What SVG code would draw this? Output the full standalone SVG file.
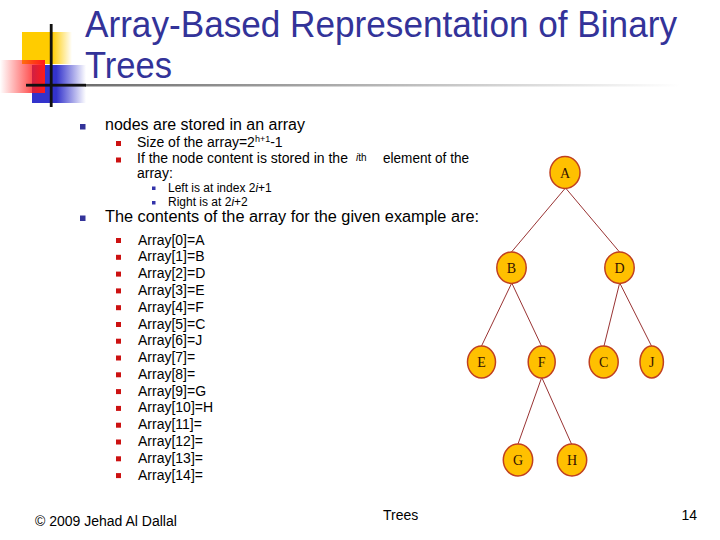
<svg xmlns="http://www.w3.org/2000/svg" width="720" height="540" viewBox="0 0 720 540">
<defs>
<linearGradient id="gY" x1="0" y1="0" x2="1" y2="0"><stop offset="0" stop-color="#FFCC00"/><stop offset="0.6" stop-color="#FFCC00"/><stop offset="1" stop-color="#FFCC00" stop-opacity="0"/></linearGradient>
<linearGradient id="gB" x1="0" y1="0" x2="1" y2="0"><stop offset="0" stop-color="#3333CC"/><stop offset="0.45" stop-color="#3333CC"/><stop offset="1" stop-color="#3333CC" stop-opacity="0"/></linearGradient>
<linearGradient id="gR" x1="0" y1="0" x2="1" y2="0"><stop offset="0" stop-color="#FF1A1A" stop-opacity="0"/><stop offset="0.75" stop-color="#FF1A1A" stop-opacity="0.8"/><stop offset="1" stop-color="#FF1A1A"/></linearGradient>
<linearGradient id="gL" x1="0" y1="0" x2="1" y2="0"><stop offset="0" stop-color="#6E6E6E"/><stop offset="1" stop-color="#FFFFFF"/></linearGradient>
</defs>
<style>
.title{font-family:"Liberation Sans",Arial,sans-serif;font-size:37px;fill:#333399}
.t1{font-family:"Liberation Sans",Arial,sans-serif;font-size:16px;fill:#000}
.t2{font-family:"Liberation Sans",Arial,sans-serif;font-size:14px;fill:#000}
.t3{font-family:"Liberation Sans",Arial,sans-serif;font-size:12px;fill:#000}
.foot{font-family:"Liberation Sans",Arial,sans-serif;font-size:14px;fill:#000}
.b1{fill:#333399}
.b2{fill:#CC1111}
.b3{fill:#3333AA}
.node ellipse{fill:#FFC000;stroke:#C04020;stroke-width:1.5}
.node text{font-family:"Liberation Serif","Times New Roman",serif;font-size:14px;fill:#331100;text-anchor:middle}
.edge{stroke:#993333;stroke-width:1;fill:none}
</style>
<rect width="720" height="540" fill="#FFFFFF"/>
<g id="logo">
<rect x="22" y="32" width="50" height="32" fill="url(#gY)"/>
<rect x="32" y="65" width="54" height="38" fill="url(#gB)"/>
<rect x="0" y="60" width="45" height="33" fill="url(#gR)"/>
<rect x="85" y="84" width="595" height="2.5" fill="url(#gL)"/>
<rect x="26" y="83.8" width="60" height="2.8" fill="#111111"/>
<rect x="49.8" y="24" width="2.8" height="83" fill="#111111"/>
</g>
<g id="title">
<text class="title" x="85" y="37" textLength="592" lengthAdjust="spacingAndGlyphs">Array-Based Representation of Binary</text>
<text class="title" x="85" y="78" textLength="87" lengthAdjust="spacingAndGlyphs">Trees</text>
</g>
<g id="bullets">
<rect class="b1" x="80" y="124" width="5.5" height="5.5"/>
<text class="t1" x="105" y="130" textLength="200" lengthAdjust="spacingAndGlyphs">nodes are stored in an array</text>
<rect class="b2" x="116" y="141" width="5" height="5"/>
<text class="t2" x="137" y="146.5">Size of the array=2<tspan font-size="9" dy="-5">h+1</tspan><tspan dy="5">-1</tspan></text>
<rect class="b2" x="116" y="157.5" width="5" height="5"/>
<text class="t2" x="137" y="163">If the node content is stored in the</text>
<text class="t2" x="356" y="163"><tspan font-size="10" dy="-2" font-style="italic">i</tspan><tspan font-size="10">th</tspan></text>
<text class="t2" x="383" y="163" textLength="86" lengthAdjust="spacingAndGlyphs">element of the</text>
<text class="t2" x="137" y="178">array:</text>
<rect class="b3" x="152" y="186.5" width="3.5" height="3.5"/>
<text class="t3" x="168" y="191.5">Left is at index 2<tspan font-style="italic">i</tspan>+1</text>
<rect class="b3" x="152" y="201" width="3.5" height="3.5"/>
<text class="t3" x="168" y="206">Right is at 2<tspan font-style="italic">i</tspan>+2</text>
<rect class="b1" x="80" y="215.5" width="5.5" height="5.5"/>
<text class="t1" x="105" y="222" textLength="374" lengthAdjust="spacingAndGlyphs">The contents of the array for the given example are:</text>
</g>
<g id="array-list">
<rect class="b2" x="116" y="238" width="5" height="5"/><text class="t2" x="138" y="244.5">Array[0]=A</text>
<rect class="b2" x="116" y="254.8" width="5" height="5"/><text class="t2" x="138" y="261.3">Array[1]=B</text>
<rect class="b2" x="116" y="271.6" width="5" height="5"/><text class="t2" x="138" y="278.1">Array[2]=D</text>
<rect class="b2" x="116" y="288.4" width="5" height="5"/><text class="t2" x="138" y="294.9">Array[3]=E</text>
<rect class="b2" x="116" y="305.2" width="5" height="5"/><text class="t2" x="138" y="311.7">Array[4]=F</text>
<rect class="b2" x="116" y="322" width="5" height="5"/><text class="t2" x="138" y="328.5">Array[5]=C</text>
<rect class="b2" x="116" y="338.7" width="5" height="5"/><text class="t2" x="138" y="345.2">Array[6]=J</text>
<rect class="b2" x="116" y="355.5" width="5" height="5"/><text class="t2" x="138" y="362">Array[7]=</text>
<rect class="b2" x="116" y="372.3" width="5" height="5"/><text class="t2" x="138" y="378.8">Array[8]=</text>
<rect class="b2" x="116" y="389.1" width="5" height="5"/><text class="t2" x="138" y="395.6">Array[9]=G</text>
<rect class="b2" x="116" y="405.9" width="5" height="5"/><text class="t2" x="138" y="412.4">Array[10]=H</text>
<rect class="b2" x="116" y="422.7" width="5" height="5"/><text class="t2" x="138" y="429.2">Array[11]=</text>
<rect class="b2" x="116" y="439.5" width="5" height="5"/><text class="t2" x="138" y="446">Array[12]=</text>
<rect class="b2" x="116" y="456.3" width="5" height="5"/><text class="t2" x="138" y="462.8">Array[13]=</text>
<rect class="b2" x="116" y="473.1" width="5" height="5"/><text class="t2" x="138" y="479.6">Array[14]=</text>
</g>
<g id="connectors">
<line class="edge" x1="565" y1="188.5" x2="511.5" y2="252"/>
<line class="edge" x1="566" y1="188.5" x2="619.5" y2="252"/>
<line class="edge" x1="511.5" y1="283.5" x2="481.5" y2="346"/>
<line class="edge" x1="512" y1="283.5" x2="541.5" y2="346"/>
<line class="edge" x1="619.5" y1="283.5" x2="604" y2="346"/>
<line class="edge" x1="620" y1="283.5" x2="651.5" y2="346"/>
<line class="edge" x1="541.5" y1="378" x2="518" y2="444"/>
<line class="edge" x1="542" y1="378" x2="571.5" y2="444"/>
</g>
<g id="node-A" class="node"><ellipse cx="565" cy="172.5" rx="15" ry="16"/><text x="565" y="177.5">A</text></g>
<g id="node-B" class="node"><ellipse cx="511.5" cy="267.7" rx="14.7" ry="15.7"/><text x="511.5" y="272.7">B</text></g>
<g id="node-D" class="node"><ellipse cx="619.5" cy="267.7" rx="14.7" ry="15.7"/><text x="619.5" y="272.7">D</text></g>
<g id="node-E" class="node"><ellipse cx="481.5" cy="362" rx="14" ry="16"/><text x="481.5" y="367">E</text></g>
<g id="node-F" class="node"><ellipse cx="541.7" cy="362" rx="13.5" ry="16"/><text x="541.7" y="367">F</text></g>
<g id="node-C" class="node"><ellipse cx="603.7" cy="362" rx="14.5" ry="16"/><text x="603.7" y="367">C</text></g>
<g id="node-J" class="node"><ellipse cx="651.7" cy="362" rx="11.7" ry="16"/><text x="651.7" y="367">J</text></g>
<g id="node-G" class="node"><ellipse cx="518" cy="460" rx="14.7" ry="16"/><text x="518" y="465">G</text></g>
<g id="node-H" class="node"><ellipse cx="572" cy="460" rx="14.7" ry="16"/><text x="572" y="465">H</text></g>
<g id="footer">
<text class="foot" x="35" y="526">© 2009 Jehad Al Dallal</text>
<text class="foot" x="383" y="520">Trees</text>
<text class="foot" x="697" y="520" text-anchor="end">14</text>
</g>
</svg>
